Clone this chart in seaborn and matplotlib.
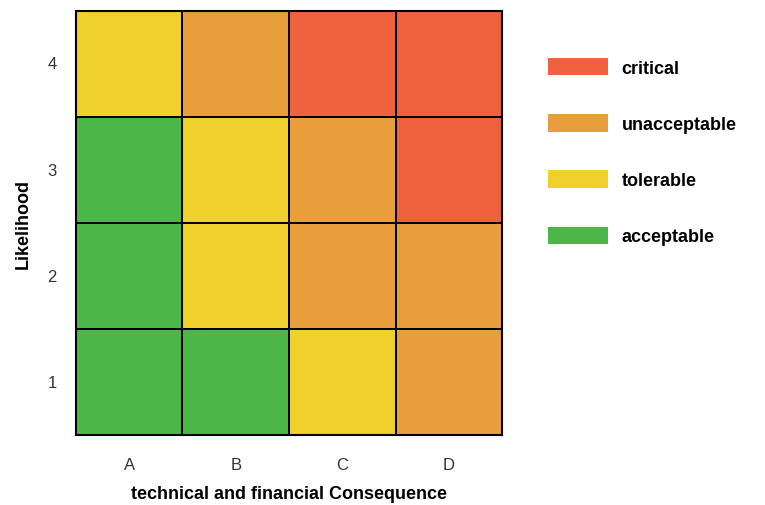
import numpy as np
import matplotlib
matplotlib.use("Agg")
import matplotlib.pyplot as plt
from matplotlib.colors import ListedColormap
from matplotlib.patches import Patch
import seaborn as sns

# risk matrix data
consequence = ["A", "B", "C", "D"]
likelihood = ["4", "3", "2", "1"]
levels = ["acceptable", "tolerable", "unacceptable", "critical"]
level_colors = ["#4cb648", "#f0d02a", "#e89e3a", "#f0623e"]
risk = [[1, 2, 3, 3],
        [0, 1, 2, 3],
        [0, 1, 2, 2],
        [0, 0, 1, 2]]

sns.set_style("white")
plt.rcParams['font.family'] = ['Liberation Sans', 'DejaVu Sans']
plt.rcParams['text.color'] = 'black'
plt.rcParams['axes.labelcolor'] = 'black'

fig = plt.figure(figsize=(7.65, 5.06), dpi=100)
ax = fig.add_axes([0.0993, 0.1383, 0.557, 0.838])

sns.heatmap(np.array(risk), ax=ax, cmap=ListedColormap(level_colors), vmin=-0.5, vmax=3.5,
            cbar=False, linewidths=1.2, linecolor="black",
            xticklabels=consequence, yticklabels=likelihood, square=False)
for s in ax.spines.values():
    s.set_visible(True)
    s.set_color("black")
    s.set_linewidth(1.5)

ax.tick_params(axis="both", length=0, labelsize=12, colors="#333333", pad=14)
ax.tick_params(axis="x", pad=16)
plt.setp(ax.get_yticklabels(), rotation=0)
ax.set_xlabel("technical and financial Consequence", fontsize=13, fontweight="bold", labelpad=9)
ax.set_ylabel("Likelihood", fontsize=13, fontweight="bold", labelpad=11)

handles = [Patch(facecolor=level_colors[i], edgecolor="none", label=levels[i]) for i in range(3, -1, -1)]
leg = fig.legend(handles=handles, loc="upper left", bbox_to_anchor=(0.705, 0.901),
                 frameon=False, prop={"size": 13, "weight": "bold"},
                 handlelength=3.3, handleheight=1.1, handletextpad=0.75,
                 labelspacing=2.07, borderpad=0)

fig.savefig("out.png", dpi=100)
